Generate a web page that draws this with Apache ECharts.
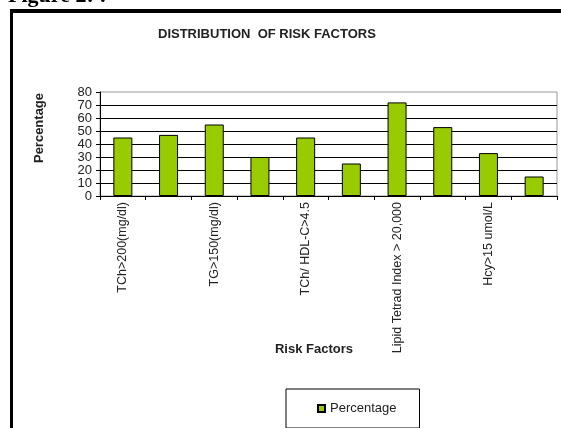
<!DOCTYPE html>
<html>
<head>
<meta charset="utf-8">
<script src="https://cdn.jsdelivr.net/npm/echarts@6/dist/echarts.min.js"></script>
<style>
  html, body { margin: 0; padding: 0; background: #fff; }
  #main { width: 561px; height: 428px; }
</style>
</head>
<body>
<div id="main"></div>
<script>
// categories (only every other one is labelled in the original)
const categories = ['TCh>200(mg/dl)', '', 'TG>150(mg/dl)', '', 'TCh/ HDL-C>4.5', '', 'Lipid Tetrad Index > 20,000', '', 'Hcy>15 umol/L', ''];
const percentage = [45, 47, 55, 30, 45, 25, 72, 53, 33, 15];
const yTicks = [0, 10, 20, 30, 40, 50, 60, 70, 80];

let myChart = echarts.init(document.getElementById('main'));

myChart.setOption({
  backgroundColor: '#fff',
  animation: false,
  title: {
    text: 'DISTRIBUTION  OF RISK FACTORS',
    left: 153,
    top: 23,
    textStyle: { fontFamily: 'Arial', fontSize: 13, fontWeight: 'bold', color: '#222' }
  },
  legend: {
    left: 286,
    top: 389,
    padding: [13, 23, 13, 31],
    borderColor: '#000',
    borderWidth: 1,
    itemWidth: 7,
    itemHeight: 7,
    icon: 'rect',
    textStyle: { fontFamily: 'Arial', fontSize: 13, color: '#222' },
    data: ['Percentage']
  },
  grid: {
    left: 100, right: 4, top: 92, bottom: 232,
    show: true, borderColor: '#999', borderWidth: 1
  },
  xAxis: {
    type: 'category',
    data: categories,
    axisLine: { lineStyle: { color: '#000', width: 1 } },
    axisTick: { show: true, length: 4, lineStyle: { color: '#000' } },
    axisLabel: {
      interval: 0, rotate: 90, margin: 6,
      fontFamily: 'Arial', fontSize: 12.5, color: '#222'
    }
  },
  yAxis: {
    type: 'value',
    min: yTicks[0],
    max: yTicks[yTicks.length - 1],
    interval: 10,
    axisLine: { show: true, lineStyle: { color: '#000' } },
    axisTick: { show: true, length: 4, lineStyle: { color: '#000' } },
    axisLabel: { margin: 8, fontFamily: 'Arial', fontSize: 13, color: '#222' },
    splitLine: { show: true, showMaxLine: false, lineStyle: { color: '#000', width: 1 } }
  },
  series: [{
    name: 'Percentage',
    type: 'bar',
    data: percentage,
    barWidth: 19,
    itemStyle: { color: '#99cc00', borderColor: '#000', borderWidth: 1 }
  }],
  graphic: [
    // figure caption, cut off at top of the page
    {
      type: 'text', left: 8, top: -15,
      style: { text: 'Figure 2: :', font: 'bold 22px "Liberation Serif"', fill: '#000' }
    },
    // frame around the chart
    { type: 'rect', shape: { x: 10, y: 9, width: 551, height: 4 }, style: { fill: '#000' } },
    { type: 'rect', shape: { x: 10, y: 9, width: 3, height: 419 }, style: { fill: '#000' } },
    // axis titles
    {
      type: 'text', x: 39, y: 128, rotation: Math.PI / 2,
      style: {
        text: 'Percentage', font: 'bold 13px Arial', fill: '#222',
        textAlign: 'center', textVerticalAlign: 'middle'
      }
    },
    {
      type: 'text', x: 314, y: 349,
      style: {
        text: 'Risk Factors', font: 'bold 13px Arial', fill: '#222',
        textAlign: 'center', textVerticalAlign: 'middle'
      }
    }
  ]
});
</script>
</body>
</html>
